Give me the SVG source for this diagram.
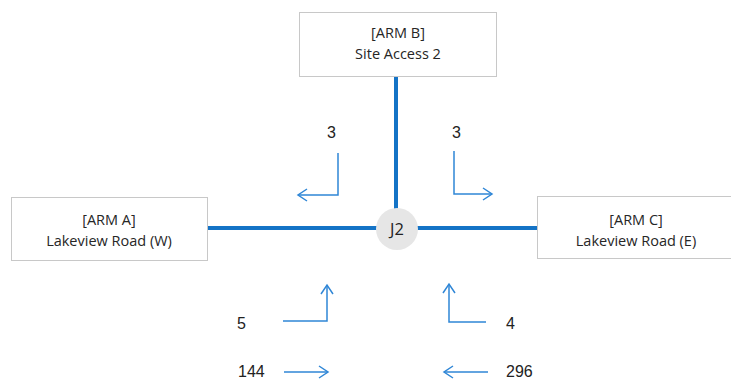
<svg xmlns="http://www.w3.org/2000/svg" width="731" height="383" viewBox="0 0 731 383">
<style>
.box{fill:#fff;stroke:#c8c8c8;stroke-width:1}
.lbl{font-family:"Open Sans","Noto Sans",sans-serif;font-size:14.5px;fill:#262626;text-anchor:middle}
.road{stroke:#1473c6;stroke-width:4;fill:none}
.mv{stroke:#2f86d6;stroke-width:1.5;fill:none}
.num{font-family:"Liberation Sans",Arial,sans-serif;font-size:16px;fill:#222}
</style>
<defs>
<marker id="ah" markerWidth="12" markerHeight="14" refX="10" refY="7" orient="auto" markerUnits="userSpaceOnUse">
<path d="M1,1 L10,7 L1,13" fill="none" stroke="#2f86d6" stroke-width="1.5"/>
</marker>
</defs>
<g id="connectors">
<line class="road" x1="396" y1="76" x2="396" y2="210"/>
<line class="road" x1="207" y1="228" x2="537" y2="228"/>
<path class="mv" d="M338,153 V195 H298" marker-end="url(#ah)"/>
<path class="mv" d="M454,151 V194 H492" marker-end="url(#ah)"/>
<path class="mv" d="M283,321 H327 V285" marker-end="url(#ah)"/>
<path class="mv" d="M486,322 H449 V284" marker-end="url(#ah)"/>
<line class="mv" x1="284" y1="372" x2="328" y2="372" marker-end="url(#ah)"/>
<line class="mv" x1="488" y1="372" x2="444" y2="372" marker-end="url(#ah)"/>
</g>
<g id="armB">
<rect class="box" x="299.5" y="12.5" width="197" height="64"/>
<text class="lbl" x="398" y="38">[ARM B]</text>
<text class="lbl" x="398" y="59">Site Access 2</text>
</g>
<g id="armA">
<rect class="box" x="11.5" y="197.5" width="196" height="63"/>
<text class="lbl" x="109" y="225">[ARM A]</text>
<text class="lbl" x="109" y="246">Lakeview Road (W)</text>
</g>
<g id="armC">
<rect class="box" x="537.5" y="196.5" width="196" height="62"/>
<text class="lbl" x="636" y="225">[ARM C]</text>
<text class="lbl" x="636" y="246">Lakeview Road (E)</text>
</g>
<g id="J2">
<circle cx="397" cy="229" r="21" fill="#e6e6e6"/>
<text x="397" y="235" font-family="'Open Sans','Noto Sans',sans-serif" font-size="16.5" fill="#222" text-anchor="middle">J2</text>
</g>
<g id="flows">
<text class="num" x="327" y="138">3</text>
<text class="num" x="452" y="138">3</text>
<text class="num" x="237" y="329">5</text>
<text class="num" x="506" y="329">4</text>
<text class="num" x="238" y="377">144</text>
<text class="num" x="506" y="377">296</text>
</g>
</svg>
